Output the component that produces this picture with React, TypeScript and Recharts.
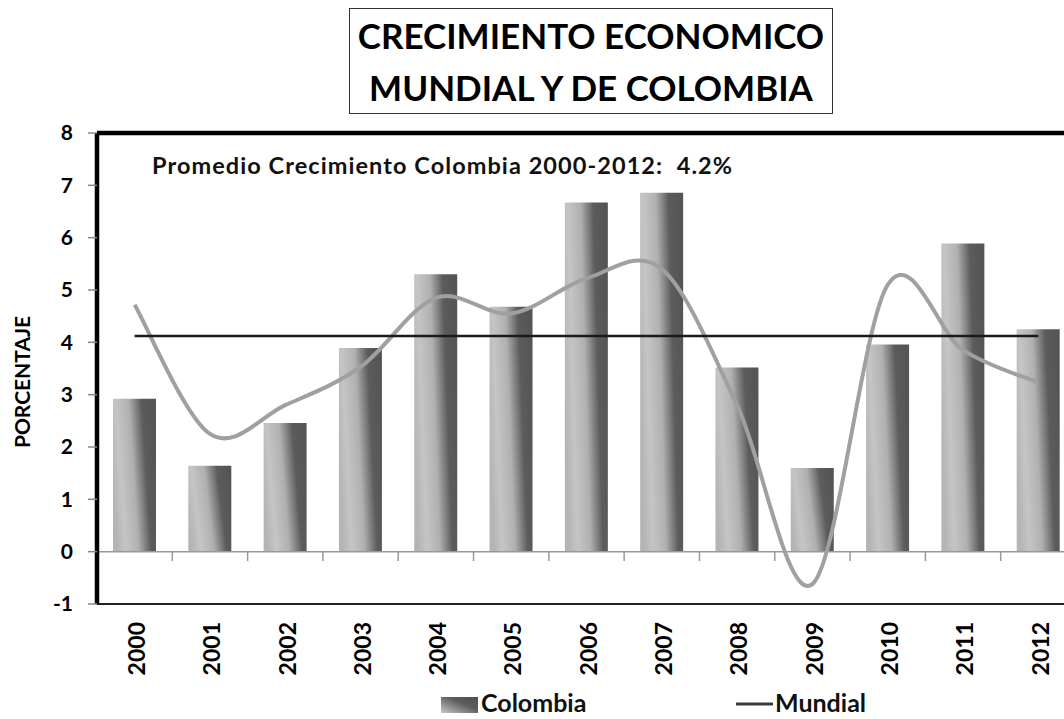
import React from 'react';
import { ComposedChart, Bar, Line, XAxis, YAxis, ReferenceLine } from 'recharts';

const years = ['2000', '2001', '2002', '2003', '2004', '2005', '2006', '2007', '2008', '2009', '2010', '2011', '2012'];
const colombia = [2.92, 1.64, 2.46, 3.89, 5.3, 4.68, 6.67, 6.86, 3.52, 1.6, 3.96, 5.89, 4.25];
const mundial = [4.72, 2.25, 2.8, 3.53, 4.85, 4.55, 5.22, 5.4, 2.8, -0.62, 5.1, 3.85, 3.23];
const promedio = [4.12, 4.12, 4.12, 4.12, 4.12, 4.12, 4.12, 4.12, 4.12, 4.12, 4.12, 4.12, 4.12];
const yTicks = [-1, 0, 1, 2, 3, 4, 5, 6, 7, 8];

const data = years.map((year, i) => ({
  year,
  colombia: colombia[i],
  mundial: mundial[i],
  promedio: promedio[i],
}));

const FONT = 'Lato, "Open Sans", sans-serif';

// smooth line like Excel's "smoothed line" (uniform Catmull-Rom as bezier)
const excelSmooth = (context: any) => {
  let pts: [number, number][] = [];
  return {
    areaStart() {},
    areaEnd() {},
    lineStart() {
      pts = [];
    },
    lineEnd() {
      if (!pts.length) return;
      context.moveTo(pts[0][0], pts[0][1]);
      for (let i = 0; i < pts.length - 1; i++) {
        const p0 = pts[i - 1] || pts[i];
        const p1 = pts[i];
        const p2 = pts[i + 1];
        const p3 = pts[i + 2] || p2;
        context.bezierCurveTo(
          p1[0] + (p2[0] - p0[0]) / 6,
          p1[1] + (p2[1] - p0[1]) / 6,
          p2[0] - (p3[0] - p1[0]) / 6,
          p2[1] - (p3[1] - p1[1]) / 6,
          p2[0],
          p2[1]
        );
      }
    },
    point(x: number, y: number) {
      pts.push([x, y]);
    },
  };
};

const YearTick = (props: any) => {
  const { x, payload } = props;
  const y = 622;
  return (
    <text
      x={x + 2}
      y={y}
      transform={`rotate(-90 ${x + 2} ${y})`}
      textAnchor="end"
      dy="0.36em"
      fontFamily={FONT}
      fontWeight={700}
      fontSize={23}
      fill="#000"
    >
      {payload.value}
    </text>
  );
};

export default function App() {
  return (
    <div style={{ position: 'absolute', left: 0, top: 0, width: 1064, height: 719, overflow: 'hidden', background: '#fff' }}>
      <div
        style={{
          position: 'absolute',
          left: 349,
          top: 8,
          width: 484,
          height: 106,
          border: '1.5px solid #333',
          fontFamily: FONT,
          fontWeight: 700,
          fontSize: 35,
          lineHeight: '52px',
          textAlign: 'center',
          color: '#000',
          boxSizing: 'border-box',
        }}
      >
        CRECIMIENTO ECONOMICO
        <br />
        MUNDIAL Y DE COLOMBIA
      </div>
      <ComposedChart
        width={1090}
        height={719}
        data={data}
        margin={{ top: 133, right: 14, bottom: 0, left: 0 }}
        barCategoryGap="0%"
        style={{ position: 'absolute', left: 0, top: 0 }}
      >
        <defs>
          <linearGradient id="colGrad" x1="0" y1="0.62" x2="1" y2="0.38">
            <stop offset="0" stopColor="#b4b4b4" />
            <stop offset="0.2" stopColor="#c5c5c5" />
            <stop offset="0.48" stopColor="#b0b0b0" />
            <stop offset="0.76" stopColor="#5c5c5c" />
            <stop offset="1" stopColor="#555555" />
          </linearGradient>
          <linearGradient id="legGrad" x1="0" y1="1" x2="1" y2="0">
            <stop offset="0" stopColor="#c8c8c8" />
            <stop offset="0.6" stopColor="#5b5b5b" />
            <stop offset="1" stopColor="#505050" />
          </linearGradient>
        </defs>
        <XAxis
          dataKey="year"
          height={115}
          axisLine={{ stroke: '#222', strokeWidth: 2 }}
          tickLine={false}
          tick={<YearTick />}
          interval={0}
        />
        <YAxis
          width={97}
          domain={[-1, 8]}
          ticks={yTicks}
          interval={0}
          allowDataOverflow
          axisLine={{ stroke: '#000', strokeWidth: 4.5 }}
          tickLine={{ stroke: '#888', strokeWidth: 1.5 }}
          tickSize={9}
          tickMargin={15}
          tick={{ fill: '#000', fontSize: 21, fontWeight: 700, fontFamily: FONT }}
        />
        <ReferenceLine y={0} stroke="#999" strokeWidth={1.5} />
        {years.slice(1).map((yr) => (
          <ReferenceLine
            key={yr}
            segment={[
              { x: yr, y: 0 },
              { x: yr, y: -0.18 },
            ]}
            position="start"
            stroke="#999"
            strokeWidth={1.5}
            ifOverflow="visible"
          />
        ))}
        <Bar dataKey="colombia" fill="url(#colGrad)" barSize={43} isAnimationActive={false} />
        <Line
          dataKey="mundial"
          type={excelSmooth as any}
          stroke="#a0a0a0"
          strokeWidth={4}
          dot={false}
          activeDot={false}
          isAnimationActive={false}
        />
        <Line
          dataKey="promedio"
          type="linear"
          stroke="#1a1a1a"
          strokeWidth={2.5}
          dot={false}
          activeDot={false}
          isAnimationActive={false}
        />
        <ReferenceLine y={8} stroke="#000" strokeWidth={4.5} ifOverflow="visible" />
        <text
          x={22}
          y={382}
          transform="rotate(-90 22 382)"
          textAnchor="middle"
          dy="0.36em"
          fontFamily={FONT}
          fontWeight={700}
          fontSize={21}
          fill="#000"
        >
          PORCENTAJE
        </text>
        <text
          x={152}
          y={174}
          fontFamily={FONT}
          fontWeight={700}
          fontSize={23.5}
          fill="#111"
          textLength={580}
          lengthAdjust="spacing"
          style={{ whiteSpace: 'pre' }}
        >
          {'Promedio Crecimiento Colombia 2000-2012:  4.2%'}
        </text>
        <rect x={441} y={697} width={37} height={16} fill="url(#legGrad)" />
        <text x={481} y={712} fontFamily={FONT} fontWeight={700} fontSize={25} fill="#111">
          Colombia
        </text>
        <line x1={736} y1={704} x2={773} y2={704} stroke="#3a3a3a" strokeWidth={3} />
        <text x={775} y={712} fontFamily={FONT} fontWeight={700} fontSize={25} fill="#111">
          Mundial
        </text>
      </ComposedChart>
    </div>
  );
}
